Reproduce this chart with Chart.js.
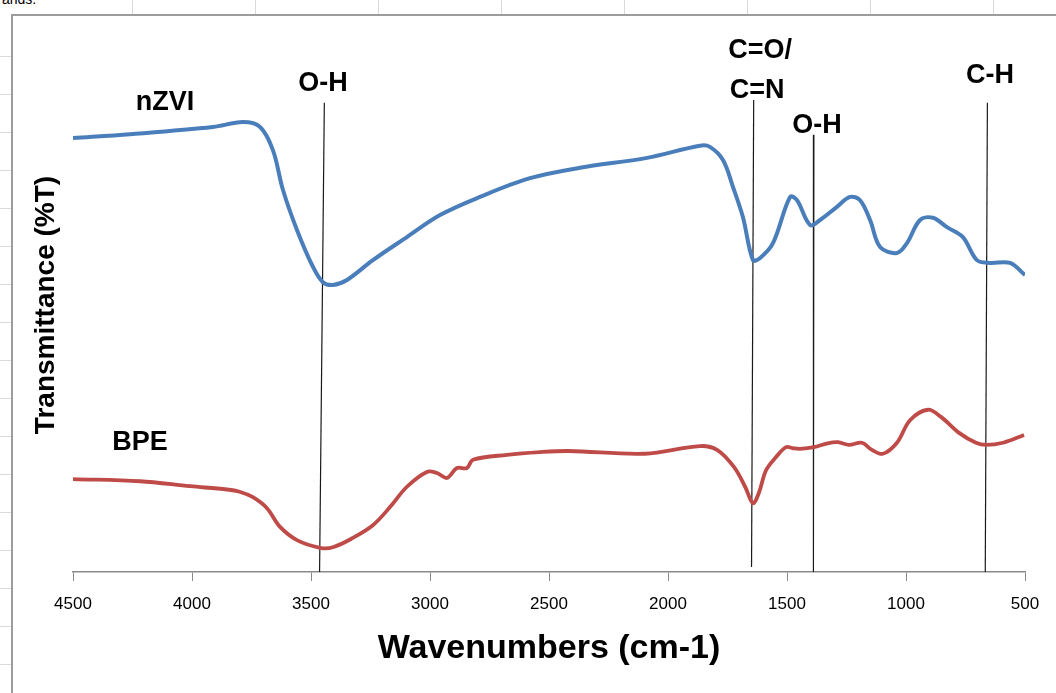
<!DOCTYPE html>
<html>
<head>
<meta charset="utf-8">
<script src="https://cdn.jsdelivr.net/npm/chart.js@4.4.1/dist/chart.umd.min.js"></script>
<style>
    html, body { margin: 0; padding: 0; background: #fff; }
    body { width: 1056px; height: 693px; position: relative; overflow: hidden; font-family: "Liberation Sans", Arial, sans-serif; }
    .cut { position: absolute; left: 2px; top: -9px; font-size: 14px; color: #000; }
    .rows { position: absolute; left: 0; top: 15px; width: 12px; bottom: 0;
        background: repeating-linear-gradient(to bottom, transparent 0 37px, #d9d9d9 37px 38px);
        background-position: 0 4px; }
    .cols { position: absolute; left: 12px; top: 0; right: 0; height: 15px;
        background: repeating-linear-gradient(to right, transparent 0 122px, #d9d9d9 122px 123px);
        background-position: -2px 0; }
    .frame { position: absolute; left: 11px; top: 14px; right: -4px; bottom: -4px; background: #fff;
        border-left: 2px solid #9c9c9c; border-top: 2px solid #9c9c9c; }
    #wrap { position: absolute; left: 0; top: 0; width: 1056px; height: 693px; }
</style>
</head>
<body>
<div class="cut">ands.</div>
<div class="rows"></div>
<div class="cols"></div>
<div class="frame"></div>
<div id="wrap"><canvas id="ftirChart"></canvas></div>
<script>
// FTIR spectra (wavenumber in cm-1, transmittance in arbitrary %T units)
const nzviWave = [4500, 4260, 3912, 3786, 3714, 3660, 3618, 3559, 3492, 3450, 3408, 3349, 3240, 3097, 2958,
    2790, 2580, 2370, 2088, 1866, 1824, 1769, 1727, 1685, 1643, 1613, 1559, 1487, 1458, 1403, 1361, 1290,
    1235, 1193, 1151, 1109, 1038, 996, 941, 887, 828, 761, 702, 647, 563, 500];
const nzviT = [78.9, 79.6, 80.9, 81.8, 80.9, 76.7, 69.5, 62.2, 55.5, 52.7, 52.2, 53.1, 56.7, 60.9, 64.9,
    68.2, 71.6, 73.5, 75.3, 77.5, 77.3, 74.9, 70.0, 64.5, 56.7, 57.1, 59.8, 68.2, 67.6, 63.1, 64.0, 66.4,
    68.2, 67.6, 64.0, 59.1, 58.0, 59.8, 64.0, 64.4, 62.7, 60.9, 56.7, 56.2, 56.2, 54.0];

const bpeWave = [4500, 4218, 4008, 3853, 3800, 3744, 3685, 3630, 3559, 3462, 3408, 3324, 3240, 3168, 3097, 3013,
    2971, 2929, 2887, 2845, 2819, 2676, 2538, 2416, 2097, 1866, 1794, 1723, 1676, 1643, 1618, 1588, 1546,
    1504, 1475, 1445, 1387, 1330, 1286, 1240, 1185, 1143, 1097, 1038, 983, 908, 853, 777, 706, 664, 592, 504];
const bpeT = [16.9, 16.5, 15.6, 15.0, 14.6, 13.6, 11.6, 8.2, 5.8, 4.4, 4.5, 6.2, 8.5, 11.8, 15.5, 18.2,
    18.0, 17.1, 18.9, 18.9, 20.4, 21.3, 21.8, 22.0, 21.5, 22.9, 22.2, 19.1, 15.5, 12.5, 14.4, 18.5, 20.9,
    22.7, 22.5, 22.4, 22.7, 23.4, 23.6, 23.1, 23.5, 22.2, 21.5, 23.5, 27.6, 29.5, 28.2, 25.3, 23.5, 23.1, 23.5, 24.9];

// band marker lines: top / bottom wavenumber and value
const bandNames = ['O-H', 'C=O/C=N', 'O-H', 'C-H'];
const bandTopWave = [3444, 1640, 1387, 658];
const bandBottomWave = [3464, 1649, 1389, 667];
const bandTop = [85.3, 85.8, 79.5, 85.3];
const bandBottom = [0, 0.9, 0, 0];

// text labels placed in data units
const labelText = ['nZVI', 'BPE', 'O-H', 'C=O/', 'C=N', 'O-H', 'C-H'];
const labelWave = [4113, 4218, 3450, 1613, 1626, 1374, 647];
const labelT = [85.3, 23.5, 88.9, 94.9, 87.6, 81.1, 90.2];

const xTicks = [4500, 4000, 3500, 3000, 2500, 2000, 1500, 1000, 500];

const toPoints = (xs, ys) => xs.map((x, i) => ({ x: x, y: ys[i] }));

const bandSets = bandNames.map((name, i) => ({
    label: name,
    data: [{ x: bandTopWave[i], y: bandTop[i] }, { x: bandBottomWave[i], y: bandBottom[i] }],
    borderColor: '#1a1a1a',
    borderWidth: 1.2,
    pointRadius: 0,
    tension: 0
}));

const textPlugin = {
    id: 'ftirText',
    afterDraw(chart) {
        const ctx = chart.ctx;
        const xs = chart.scales.x, ys = chart.scales.y;
        ctx.save();
        ctx.fillStyle = '#000';
        ctx.textAlign = 'center';
        ctx.textBaseline = 'middle';
        ctx.font = 'bold 27px "Liberation Sans", Arial, sans-serif';
        labelText.forEach((t, i) => {
            ctx.fillText(t, xs.getPixelForValue(labelWave[i]), ys.getPixelForValue(labelT[i]));
        });
        // y axis title
        ctx.translate(46, 305);
        ctx.rotate(-Math.PI / 2);
        ctx.font = 'bold 28px "Liberation Sans", Arial, sans-serif';
        ctx.fillText('Transmittance (%T)', 0, 0);
        ctx.restore();
    }
};

const ctxEl = document.getElementById('ftirChart');
new Chart(ctxEl, {
    type: 'line',
    data: {
        datasets: [{
            label: 'nZVI',
            data: toPoints(nzviWave, nzviT),
            borderColor: '#4a7ebb',
            borderWidth: 4,
            pointRadius: 0,
            tension: 0.35
        }, {
            label: 'BPE',
            data: toPoints(bpeWave, bpeT),
            borderColor: '#be4b48',
            borderWidth: 3.8,
            pointRadius: 0,
            tension: 0.35
        }].concat(bandSets)
    },
    options: {
        responsive: true,
        maintainAspectRatio: false,
        animation: false,
        layout: { padding: { left: 73, right: 31, top: 22, bottom: 0 } },
        plugins: {
            legend: { display: false },
            tooltip: { enabled: false }
        },
        scales: {
            x: {
                type: 'linear',
                reverse: true,
                min: 500,
                max: 4500,
                afterBuildTicks: function (scale) {
                    scale.ticks = xTicks.map(v => ({ value: v }));
                },
                afterFit: function (scale) {
                    scale.height = 121;
                },
                grid: {
                    display: true,
                    drawOnChartArea: false,
                    drawTicks: true,
                    tickLength: 9,
                    color: '#8a8a8a'
                },
                border: { display: true, color: '#8a8a8a', width: 1.5 },
                ticks: {
                    padding: 13,
                    color: '#000',
                    font: { family: '"Liberation Sans", Arial, sans-serif', size: 17 },
                    callback: function (value) { return String(value); }
                },
                title: {
                    display: true,
                    text: 'Wavenumbers (cm-1)',
                    color: '#000',
                    font: { family: '"Liberation Sans", Arial, sans-serif', size: 34, weight: 'bold' },
                    padding: { top: 0, bottom: 24 }
                }
            },
            y: {
                display: false,
                min: 0,
                max: 100
            }
        }
    },
    plugins: [textPlugin]
});
</script>
</body>
</html>
